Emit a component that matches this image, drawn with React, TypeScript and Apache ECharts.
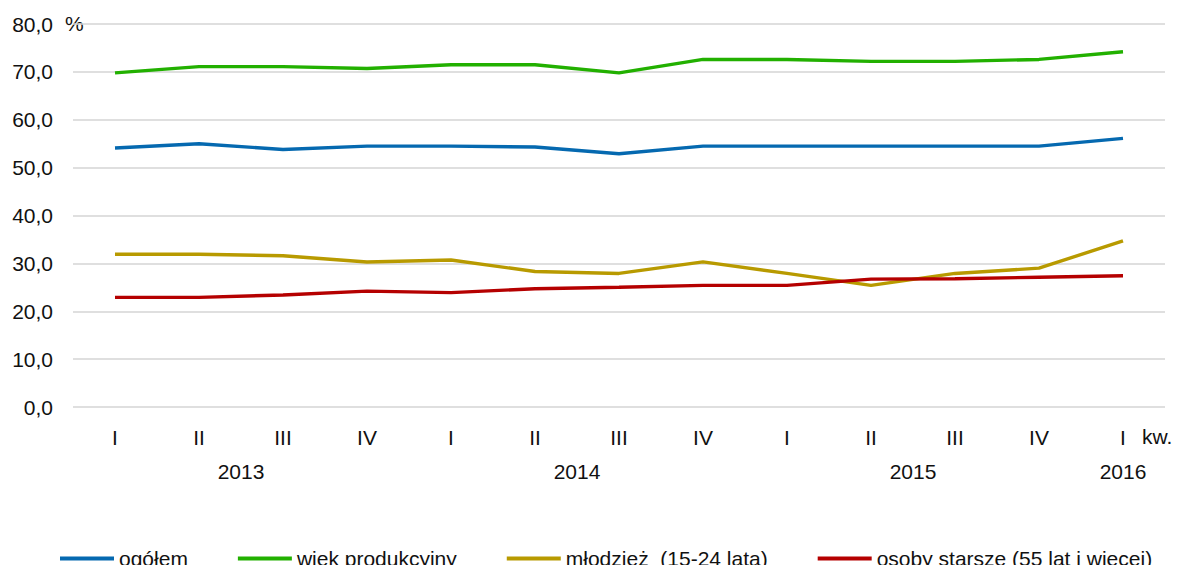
import React, { useEffect, useRef } from "react";
import * as echarts from "echarts";

const quarters = ["I", "II", "III", "IV", "I", "II", "III", "IV", "I", "II", "III", "IV", "I"];
const years = ["2013", "2014", "2015", "2016"];
const yearPositions = [1.5, 5.5, 9.5, 12];

const ogolem = [54.1, 55.0, 53.8, 54.5, 54.5, 54.3, 52.9, 54.5, 54.5, 54.5, 54.5, 54.5, 56.1];
const wiekProdukcyjny = [69.8, 71.1, 71.1, 70.7, 71.5, 71.5, 69.8, 72.6, 72.6, 72.2, 72.2, 72.6, 74.2];
const mlodziez = [31.9, 31.9, 31.6, 30.3, 30.7, 28.3, 27.9, 30.3, 27.9, 25.4, 27.9, 29.0, 34.7];
const osobyStarsze = [22.9, 22.9, 23.4, 24.2, 23.9, 24.7, 25.0, 25.4, 25.4, 26.7, 26.8, 27.1, 27.4];

const seriesNames = ["ogółem", "wiek produkcyjny", "młodzież  (15-24 lata)", "osoby starsze (55 lat i więcej)"];
const seriesColors = ["#0569b0", "#22b000", "#b89a00", "#b50000"];

const FONT = "Liberation Sans, Arial, sans-serif";
const TEXT = "#111111";
const FS = 21;

export default function App() {
  const ref = useRef<HTMLDivElement>(null);

  useEffect(() => {
    if (!ref.current) return;
    const chart = echarts.init(ref.current, null, { renderer: "svg" });
    const data = [ogolem, wiekProdukcyjny, mlodziez, osobyStarsze];
    chart.setOption({
      animation: false,
      backgroundColor: "#ffffff",
      textStyle: { fontFamily: FONT, color: TEXT },
      grid: { left: 73, right: 17, top: 24, bottom: 166, containLabel: false },
      xAxis: [
        {
          type: "category",
          data: quarters,
          boundaryGap: true,
          axisLine: { show: false },
          axisTick: { show: false },
          axisLabel: { fontSize: FS, color: TEXT, margin: 20, fontFamily: FONT, interval: 0 },
          splitLine: { show: false },
        },
        {
          type: "value",
          min: -0.5,
          max: 12.5,
          interval: 0.5,
          position: "bottom",
          axisLine: { show: false },
          axisTick: { show: false },
          splitLine: { show: false },
          axisLabel: {
            fontSize: FS,
            color: TEXT,
            margin: 54,
            fontFamily: FONT,
            showMinLabel: true,
            showMaxLabel: true,
            formatter: (v: number) => {
              const i = yearPositions.findIndex((p) => Math.abs(p - v) < 1e-6);
              return i >= 0 ? years[i] : "";
            },
          },
        },
      ],
      yAxis: {
        type: "value",
        min: 0,
        max: 80,
        interval: 10,
        axisLine: { show: false },
        axisTick: { show: false },
        axisLabel: {
          fontSize: FS,
          color: TEXT,
          margin: 20,
          fontFamily: FONT,
          formatter: (v: number) => v.toFixed(1).replace(".", ","),
        },
        splitLine: { show: true, lineStyle: { color: "#d4d4d4", width: 1.5 } },
      },
      legend: {
        data: seriesNames,
        left: 55,
        top: 543,
        icon: "rect",
        itemWidth: 54,
        itemHeight: 4,
        itemGap: 50,
        textStyle: { fontSize: FS, color: TEXT, fontFamily: FONT },
      },
      graphic: [
        {
          type: "text",
          left: 65,
          top: 13,
          style: { text: "%", fontSize: FS, fill: TEXT, fontFamily: FONT },
        },
        {
          type: "text",
          left: 1142,
          top: 426,
          style: { text: "kw.", fontSize: FS, fill: TEXT, fontFamily: FONT },
        },
      ],
      series: data.map((d, i) => ({
        name: seriesNames[i],
        type: "line",
        data: d,
        xAxisIndex: 0,
        yAxisIndex: 0,
        symbol: "none",
        showSymbol: false,
        lineStyle: { color: seriesColors[i], width: 3.4 },
        itemStyle: { color: seriesColors[i] },
        z: i === 3 ? 3 : 2,
      })),
    });
    return () => chart.dispose();
  }, []);

  return <div ref={ref} style={{ width: 1182, height: 573, margin: -8 }} />;
}
